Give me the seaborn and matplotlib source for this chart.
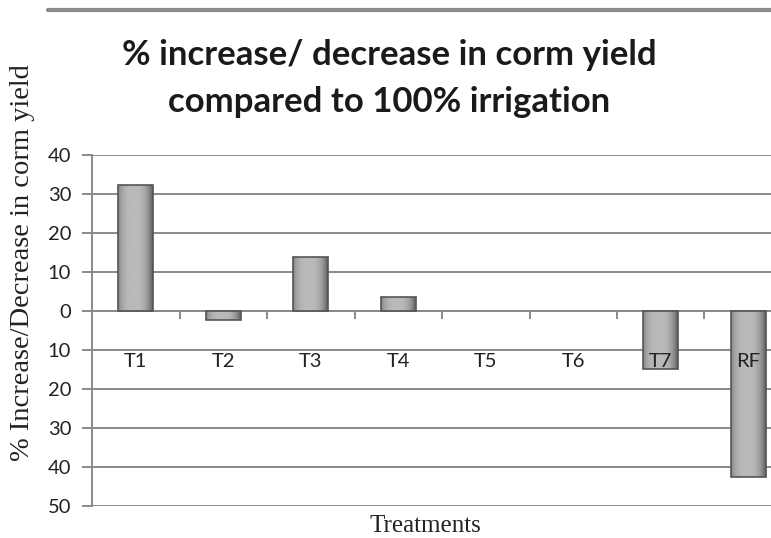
import numpy as np
import pandas as pd
import matplotlib
matplotlib.use("Agg")
import matplotlib.pyplot as plt
import seaborn as sns
from matplotlib.lines import Line2D

treatments = ["T1", "T2", "T3", "T4", "T5", "T6", "T7", "RF"]
change_pct = [32.3, -2.3, 13.8, 3.7, 0.0, 0.0, -14.9, -42.6]
y_ticks = [40, 30, 20, 10, 0, -10, -20, -30, -40, -50]
y_tick_labels = ["40", "30", "20", "10", "0", "10", "20", "30", "40", "50"]

df = pd.DataFrame({"Treatment": treatments, "Change": change_pct})

sns.set_style("white")
plt.rcParams["font.family"] = ["Lato", "DejaVu Sans"]

W, H = 771, 538
fig = plt.figure(figsize=(W / 100, H / 100), dpi=100)
ax = fig.add_axes([92 / W, 32 / H, 700 / W, 351 / H])

sns.barplot(data=df, x="Treatment", y="Change", order=treatments, color="#8e8e8e",
            width=0.4, linewidth=0, ax=ax, zorder=3)

ax.set_ylim(-50, 40)
ax.set_xlim(-0.5, 7.5)
ax.set_yticks(y_ticks)
ax.set_yticklabels(y_tick_labels, fontsize=14.5, color="#222222")
ax.yaxis.grid(True, color="#8a8a8a", linewidth=1.4, zorder=0)
ax.set_axisbelow(True)

for s in ["top", "right"]:
    ax.spines[s].set_visible(False)
ax.spines["left"].set_color("#8a8a8a")
ax.spines["left"].set_linewidth(1.4)
ax.spines["bottom"].set_position(("data", 0))
ax.spines["bottom"].set_color("#8a8a8a")
ax.spines["bottom"].set_linewidth(1.4)

ax.tick_params(axis="y", which="major", direction="out", length=7, width=1.4,
               color="#8a8a8a", pad=8, left=True)
ax.set_xticks(range(len(treatments)))
ax.set_xticklabels(treatments, fontsize=14.5, color="#222222")
ax.tick_params(axis="x", which="major", length=0, pad=30)
ax.set_xticks(np.arange(0.5, len(treatments) - 0.5, 1.0), minor=True)
ax.tick_params(axis="x", which="minor", direction="out", length=6, width=1.4,
               color="#8a8a8a", bottom=True)
ax.xaxis.set_zorder(5)
ax.set_xlabel("")
ax.set_ylabel("")

# gradient shading on each bar
grad = np.linspace(0, 1, 64)
prof = 1 - 0.6 * (np.abs(grad - 0.45) * 2) ** 3
img = np.tile(prof, (8, 1))
for p in list(ax.patches):
    x0, y0 = p.get_x(), p.get_y()
    w, h = p.get_width(), p.get_height()
    if abs(h) < 1e-9:
        continue
    ybot, ytop = min(y0, y0 + h), max(y0, y0 + h)
    im = ax.imshow(img, extent=[x0, x0 + w, ybot, ytop], aspect="auto",
                   cmap="gray", vmin=-0.6, vmax=1.6, zorder=3.5,
                   interpolation="bilinear")
    im.set_clip_path(p)
    edge = plt.Rectangle((x0, ybot), w, ytop - ybot, fill=False,
                         edgecolor="#555555", linewidth=1.2, zorder=3.6)
    ax.add_patch(edge)

fig.text(425 / W, 1 - 532 / H, "Treatments", ha="center", va="baseline",
         fontsize=18, family=["Liberation Serif"], color="#222222")
fig.text(23 / W, 1 - 263 / H, "% Increase/Decrease in corm yield", rotation=90,
         ha="center", va="center", fontsize=20.5, family=["Liberation Serif"],
         color="#222222")

fig.text(389 / W, 1 - 78.5 / H, "% increase/ decrease in corm yield\ncompared to 100% irrigation",
         ha="center", va="center", fontsize=25, fontweight="bold", color="#1a1a1a",
         linespacing=1.55)

fig.add_artist(Line2D([48 / W, 1.0], [1 - 10 / H, 1 - 10 / H], color="#8a8a8a",
                      linewidth=3, transform=fig.transFigure))

fig.savefig("out.png", dpi=100)
